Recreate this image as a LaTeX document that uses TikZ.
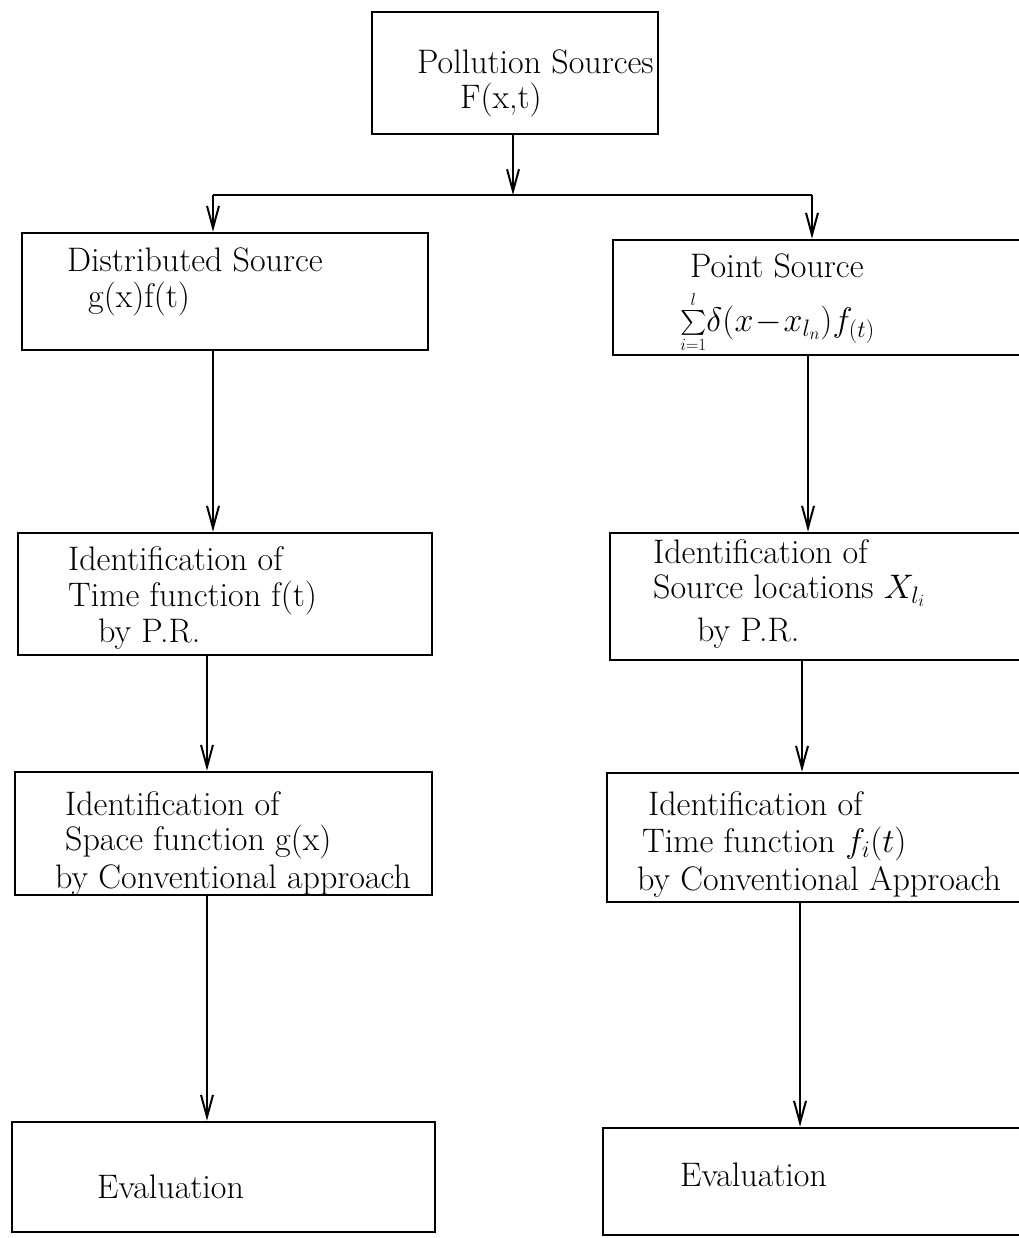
\RequirePackage{fix-cm}
\documentclass[tikz,border=0pt]{standalone}
\usepackage{amsmath}
\usetikzlibrary{arrows.meta}
\begin{document}
\begin{tikzpicture}[x=1pt,y=-1pt,
  box/.style={draw,line width=2.6pt,rectangle,inner sep=0pt},
  conn/.style={line width=2pt,-{Straight Barb[length=22pt,width=12pt,line width=2pt]}},
  lbl/.style={anchor=base west,inner sep=0pt,font=\fontsize{34}{36}\selectfont}]
\useasboundingbox (0,0) rectangle (1018,1238);
% boxes
\node[box,minimum width=286pt,minimum height=122pt] (top) at (515,73) {};
\node[box,minimum width=406pt,minimum height=117pt] (ds) at (225,291.5) {};
\node[box,minimum width=417pt,minimum height=115pt] (ps) at (821.5,297.5) {};
\node[box,minimum width=414pt,minimum height=122pt] (lt) at (225,594) {};
\node[box,minimum width=420pt,minimum height=127pt] (rs) at (820,596.5) {};
\node[box,minimum width=417pt,minimum height=123pt] (lsp) at (223.5,833.5) {};
\node[box,minimum width=423pt,minimum height=129pt] (rt) at (818.5,837.5) {};
\node[box,minimum width=423pt,minimum height=110pt] (le) at (223.5,1177) {};
\node[box,minimum width=427pt,minimum height=107pt] (re) at (816.5,1181.5) {};
% texts
\node[lbl] (t1) at (417,74) {Pollution Sources};
\node[lbl] (t2) at (460,109) {F(x,t)};
\node[lbl] (t3) at (67,272) {Distributed Source};
\node[lbl] (t4) at (88,307) {g(x)f(t)};
\node[lbl] (t5) at (690,278) {Point Source};
\node[lbl] (t6) at (680,331) {$\sum\limits_{\scriptscriptstyle i=1}^{\scriptscriptstyle l}\!\delta(x\!-\!x_{l_n})f_{(t)}$};
\node[lbl] (t7) at (68,570) {Identification of};
\node[lbl] (t8) at (68,606) {Time function f(t)};
\node[lbl] (t9) at (98,642) {by P.R.};
\node[lbl] (t10) at (653,563) {Identification of};
\node[lbl] (t11) at (653,598) {Source locations $X_{l_i}$};
\node[lbl] (t12) at (697,641) {by P.R.};
\node[lbl] (t13) at (65,815) {Identification of};
\node[lbl] (t14) at (65,850) {Space function g(x)};
\node[lbl] (t15) at (55,888) {by Conventional approach};
\node[lbl] (t16) at (648,815) {Identification of};
\node[lbl] (t17) at (642,852) {Time function $f_i(t)$};
\node[lbl] (t18) at (637,890) {by Conventional Approach};
\node[lbl] (t19) at (97,1198) {Evaluation};
\node[lbl] (t20) at (680,1186) {Evaluation};
% connectors
\coordinate (j) at (513,195);
\coordinate (jl) at (213,195);
\coordinate (jr) at (812,195);
\draw[conn] (top.south -| j) -- (j);
\draw[line width=2.2pt] (jl) -- (jr);
\draw[conn] (jl) -- (jl |- ds.north);
\draw[conn] (jr) -- (jr |- ps.north);
\draw[conn] (ds.south -| 213,0) -- (lt.north -| 213,0);
\draw[conn] (lt.south -| 207,0) -- (lsp.north -| 207,0);
\draw[conn] (lsp.south -| 207,0) -- (le.north -| 207,0);
\draw[conn] (ps.south -| 808,0) -- (rs.north -| 808,0);
\draw[conn] (rs.south -| 802,0) -- (rt.north -| 802,0);
\draw[conn] (rt.south -| 800,0) -- (re.north -| 800,0);
\end{tikzpicture}
\end{document}
